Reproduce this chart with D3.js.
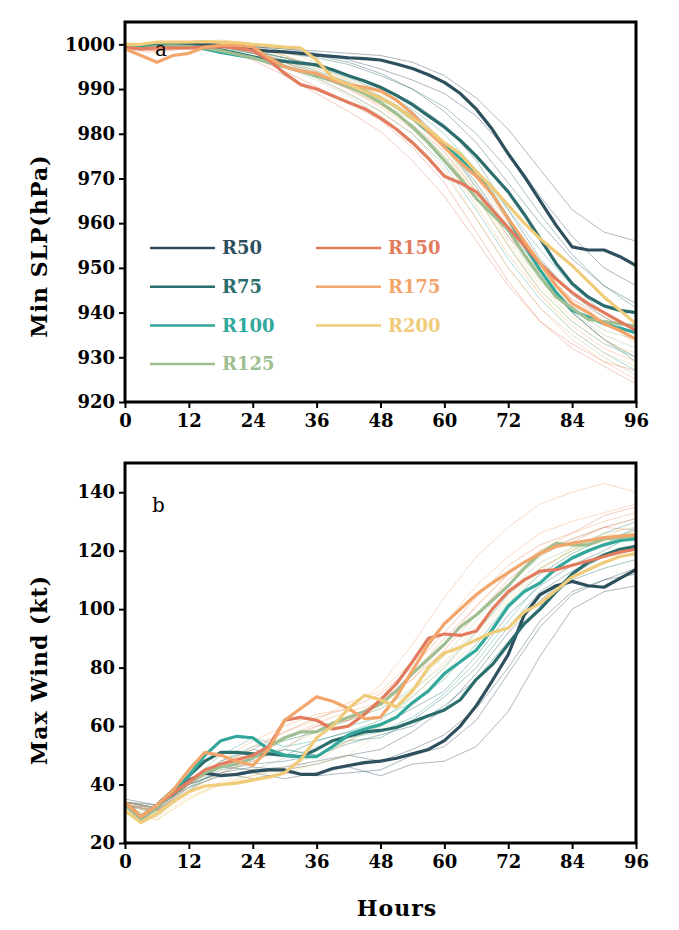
<!DOCTYPE html>
<html>
<head>
<meta charset="utf-8">
<script src="https://cdn.jsdelivr.net/npm/d3@7"></script>
<style>
  body { margin: 0; background: #fff; }
  svg text { font-family: "DejaVu Serif", serif; }
</style>
</head>
<body>
<div id="chart"></div>
<script>
// data: hours, ensemble means (3-hourly) and a few members (6-hourly)
const hours3 = d3.range(0, 97, 3);
const hours6 = d3.range(0, 97, 6);
const runs = ["R50", "R75", "R100", "R125", "R150", "R175", "R200"];
const runColors = ["#2e4f5e", "#2b6d6d", "#31a89b", "#9fbf92", "#e37c5e", "#f2a66b", "#efcb7a"];

// min SLP (hPa) means
const slpMean = {
    R50: [1000,999.6,999.8,1000,1000,1000,999.8,999.3,998.8,998.5,998.3,998,997.6,997.3,997,996.8,996.5,995.6,994.6,993.2,991.5,989,985.5,981,975.5,970.5,965,959.5,954.7,954,954,952.5,950.5],
    R75: [1000,999.5,999.7,999.8,999.8,999.5,998.8,998,997.2,996.6,996.2,995.8,995.4,994.3,993,991.8,990.4,988.6,986.5,984,981.5,978.5,975,971,967,962,956.5,951,946.5,943.5,941.5,940.5,940],
    R100: [999.8,999.2,999.6,999.7,999.5,999,998.2,997.6,997,996,995,994,993,992,991,989.6,988,986,983.5,980.5,977.5,974.5,971,966.5,961,955,949.5,944.5,940.5,939,937.5,936.5,935.5],
    R125: [999.5,999,999.5,999.6,999.5,999.2,998.6,997.8,997,996,995,994,993,991.8,990.5,989,987,984.5,981.5,978,974,970,965.5,962,958.5,953,948,943.5,941,938.5,938,937.5,937],
    R150: [999.3,999,999.2,999.2,999.2,999.4,999.5,999.2,998.6,996.5,993.5,991,990,988.5,987,985.6,983.5,981,978,974.5,970.5,969,967,963,959,955,951,947.5,944.5,942,940,938,936],
    R175: [999,997.5,996,997.5,998,999.4,999.8,999.8,999.5,997,995,994,993.5,992,991,990.4,989.6,987.5,984.5,980.5,977,973.5,970.5,966.5,961,956,951,946,942,940,937.5,936,934],
    R200: [1000,1000,1000.5,1000.5,1000.5,1000.6,1000.5,1000.4,1000,999.7,999.4,999.2,996.5,992.5,991,989.5,988,986,983.5,981,978,975.5,971.5,968,964,960,956.5,953.5,950.5,947,943.5,940.5,937.5]
};

// max wind (kt) means
const windMean = {
    R50: [34,29,32,37,41.5,44,43,43.5,44.5,45,45,43.5,43.5,45.5,46.5,47.5,48,49,50.5,52,55,60,67,75.5,84.5,98,105,108,109.5,108,107.5,110.5,113.5],
    R75: [34,29,33,38,43,48,51,51,50.5,50.5,50,49.5,52,55,56.5,58,58.5,59.5,61.5,63.5,65.5,69,76,81,88,95,100,106,112,116,118.5,120.5,121.5],
    R100: [33,28.5,33,38,43,50,55,56.5,56,52,50,49.5,49.5,53,57,59,60.5,63,68,72,78,82,86,93,101,106,109,114,117.5,120,122,123.5,124],
    R125: [33,28,32,37,41,44,46,47,49,53,56,58,58,61,63,65,67.5,72,78,83,88,94,98,103,108,114,119,122.5,122,122,124,124.5,125],
    R150: [34,29,33,37,41,45,47,48.5,50,53,62,63,62,59,60,64,69,74.5,82,90,91.5,91,92.5,100,106,110,113,113.5,115,116.5,118,119.5,120.5],
    R175: [34,29,33,38,45,51,50,48,46.5,52,62,66,70,68.5,66,62.5,63,70,79,88,95,100,105,109,112.5,116,119,121.5,122.5,123.5,124.5,125,125.5],
    R200: [31,27,30,34,37.5,39.5,40,40.5,41.5,42.5,44,48.5,56,60,66,70.5,69,66.5,72,80,85,87,89.5,92,93.5,99,102,106.5,111,113.5,116,118,119]
};

// individual members, min SLP
const slpMembers = [
    ["R50", [1000,1000,1000,1000.5,999.5,999,998.5,998,997.5,996,993,988,981,972,963,958,956]],
    ["R50", [1000,999.5,1000,999.5,998.5,997,995.5,993,990,985,978,968,958,948,940,934,930]],
    ["R50", [1000,1000,1000,1000,999.5,999,998,996.5,994.5,992,989,984,976,966,957,950,946]],
    ["R50", [1000,1000,1000.5,1000,999.5,998.5,997.5,996,993.5,990,985,978,969,960,952,946,942]],
    ["R75", [1000,999.5,1000,999.5,998,996.5,994,991.5,988,984,978,969,958,948,940,934,929]],
    ["R75", [1000,1000,1000.5,1000,999,998,997,995.5,993,990,986,980,972,962,953,946,941]],
    ["R75", [1000,1000,1000,999.5,998.5,997,995,993,990.5,987,982,974,963,952,944,939,935]],
    ["R100", [999.5,999,1000,999.5,998,995.5,992.5,989,985,980,973,963,952,943,936,931,927]],
    ["R100", [1000,999.5,1000,999.5,998.5,997,995,992.5,989.5,985.5,980,972,963,954,946,940,936]],
    ["R100", [1000,999,999.5,999,998,996,993.5,990.5,987,982,975,966,955,945,938,933,930]],
    ["R125", [999.5,999,999.5,999,997.5,995,992,988.5,984,978.5,971,961,950,941,935,930,926]],
    ["R125", [1000,999.5,1000,999.5,998,996,993.5,991,987,983,977,968,957,947,940,935,932]],
    ["R125", [999.5,999,1000,999.5,998.5,997,994.5,991.5,988,983.5,977,969,959,949,941,936,934]],
    ["R150", [999.5,998.5,999.5,999,997,994,990.5,987,983,977,969,958,947,938,932,928,924]],
    ["R150", [1000,999.5,1000,999.5,998,996,993,990,986.5,982,976,967,957,949,943,939,936]],
    ["R150", [999,998.5,999,998.5,996.5,993,989,985,980.5,974,966,956,946,938,933,929,927]],
    ["R175", [999,998,999.5,999.5,998.5,996,992.5,989,985,980,972,961,950,941,934,929,925]],
    ["R175", [1000,999,1000,1000,999,997.5,995,992,988.5,984,978,970,960,950,943,938,933]],
    ["R175", [999.5,998.5,1000,1000,998.5,996.5,993.5,990,986,981,974,964,953,944,937,932,929]],
    ["R200", [1000,999.5,1000,1001,1000,998.5,996,993,989,984,977,967,956,946,939,934,930]],
    ["R200", [999.5,999,1000,1000.5,999.5,997.5,994,990.5,986.5,981.5,975,966,955,944,936,931,928]],
    ["R200", [1000,999.5,1000.5,1000.5,999.5,997.5,995,992,988,983,976,966,955,945,938,933,931]]
];

// individual members, max wind
const windMembers = [
    ["R50", [34,33,40,44,42,44,43,44,45,50,53,62,78,94,105,110,112]],
    ["R50", [33,32,41,46,45,46,48,50,52,58,66,78,92,103,112,118,122]],
    ["R50", [35,33,39,43,44,42,44,46,43,47,48,53,65,84,100,106,108]],
    ["R50", [34,32,40,44,46,45,47,50,48,52,57,66,80,96,106,110,114]],
    ["R75", [34,32,40,48,52,50,55,58,60,66,72,84,98,108,115,120,126]],
    ["R75", [33,31,39,45,47,48,50,54,57,60,67,76,89,101,110,114,117]],
    ["R75", [34,32,40,46,49,52,50,55,56,62,70,80,94,106,113,118,121]],
    ["R100", [34,32,41,50,56,53,55,58,62,70,80,92,105,114,120,126,130]],
    ["R100", [33,30,38,46,49,52,50,56,58,63,71,82,96,109,117,122,128]],
    ["R100", [33,31,40,48,53,55,58,60,63,68,76,88,102,112,119,124,127]],
    ["R125", [32,29,38,44,48,53,58,62,66,73,84,96,108,118,124,128,131]],
    ["R125", [33,31,39,43,45,49,53,55,60,67,77,88,101,112,119,125,124]],
    ["R125", [33,30,39,46,50,55,58,62,66,72,81,93,106,116,121,126,128]],
    ["R150", [34,32,42,47,52,58,63,66,71,80,92,104,115,122,126,132,135]],
    ["R150", [33,31,38,44,48,52,60,62,69,76,86,98,110,119,123,128,127]],
    ["R150", [34,31,40,47,50,56,60,62,68,78,90,101,112,120,124,128,131]],
    ["R175", [33,31,40,48,55,60,64,66,74,88,104,118,128,136,140,143,140]],
    ["R175", [34,32,41,46,50,56,61,65,68,76,88,101,112,120,126,130,133]],
    ["R175", [33,30,40,46,53,58,62,68,72,82,95,108,118,126,130,133,136]],
    ["R200", [30,28,35,41,43,45,48,55,63,72,82,94,106,114,120,126,124]],
    ["R200", [31,29,36,40,42,44,47,50,58,68,78,90,103,113,121,123,127]],
    ["R200", [31,28,35,40,43,46,50,55,60,70,80,92,104,114,120,124,130]]
];

const xTicks = [0, 12, 24, 36, 48, 60, 72, 84, 96];
const slpTicks = [920, 930, 940, 950, 960, 970, 980, 990, 1000];
const windTicks = [20, 40, 60, 80, 100, 120, 140];

const W = 679, H = 930;
const plotLeft = 125, plotRight = 636;

const svg = d3
    .select("#chart")
    .append("svg")
    .attr("width", W)
    .attr("height", H);

const color = d3.scaleOrdinal().domain(runs).range(runColors);

const x = d3
    .scaleLinear()
    .domain([0, 96])
    .range([plotLeft, plotRight]);

function panel(y0, y1, yDomain, yTicks, means, members, tag) {
    const y = d3
        .scaleLinear()
        .domain(yDomain)
        .range([y1, y0]);

    const g = svg.append("g");

    svg.append("defs")
        .append("clipPath")
        .attr("id", "clip-" + tag)
        .append("rect")
        .attr("x", plotLeft)
        .attr("y", y0)
        .attr("width", plotRight - plotLeft)
        .attr("height", y1 - y0);

    const lines = g.append("g").attr("clip-path", `url(#clip-${tag})`);

    const thin = d3
        .line()
        .x((d, i) => x(hours6[i]))
        .y((d) => y(d));

    lines.selectAll(".member")
        .data(members)
        .enter()
        .append("path")
        .attr("class", "member")
        .attr("fill", "none")
        .attr("stroke", (d) => color(d[0]))
        .attr("stroke-opacity", 0.4)
        .attr("stroke-width", 1)
        .attr("d", (d) => thin(d[1]));

    const thick = d3
        .line()
        .x((d, i) => x(hours3[i]))
        .y((d) => y(d));

    lines.selectAll(".mean")
        .data(runs)
        .enter()
        .append("path")
        .attr("class", "mean")
        .attr("fill", "none")
        .attr("stroke", (d) => color(d))
        .attr("stroke-width", 3.2)
        .attr("stroke-linejoin", "round")
        .attr("d", (d) => thick(means[d]));

    // axes
    const xAxis = g.append("g")
        .attr("transform", `translate(0,${y1})`)
        .call(d3.axisBottom(x).tickValues(xTicks).tickSize(6).tickPadding(4));

    const yAxis = g.append("g")
        .attr("transform", `translate(${plotLeft},0)`)
        .call(d3.axisLeft(y).tickValues(yTicks).tickFormat(d3.format("d")).tickSize(6).tickPadding(4));

    [xAxis, yAxis].forEach((a) => {
        a.select(".domain").remove();
        a.selectAll("line").attr("stroke", "#000").attr("stroke-width", 2);
        a.selectAll("text")
            .attr("fill", "#000")
            .style("font-size", "18px")
            .style("font-weight", "bold")
            .style("font-family", "DejaVu Serif");
    });
    xAxis.selectAll("text").attr("dy", "0.85em");

    g.append("rect")
        .attr("x", plotLeft)
        .attr("y", y0)
        .attr("width", plotRight - plotLeft)
        .attr("height", y1 - y0)
        .attr("fill", "none")
        .attr("stroke", "#000")
        .attr("stroke-width", 3);

    return g;
}

const panelA = panel(22, 402, [920, 1005], slpTicks, slpMean, slpMembers, "a");
const panelB = panel(463, 843, [20, 150], windTicks, windMean, windMembers, "b");

panelA.append("text")
    .attr("x", 155)
    .attr("y", 56)
    .style("font-size", "20px")
    .text("a");

panelB.append("text")
    .attr("x", 152)
    .attr("y", 512)
    .style("font-size", "20px")
    .text("b");

// axis titles
svg.append("text")
    .attr("transform", "translate(47,246) rotate(-90)")
    .style("text-anchor", "middle")
    .style("font-size", "22px")
    .style("letter-spacing", "1px")
    .style("font-weight", "bold")
    .text("Min SLP(hPa)");

svg.append("text")
    .attr("transform", "translate(47,670) rotate(-90)")
    .style("text-anchor", "middle")
    .style("font-size", "22px")
    .style("letter-spacing", "1px")
    .style("font-weight", "bold")
    .text("Max Wind (kt)");

svg.append("text")
    .attr("x", 397)
    .attr("y", 916)
    .style("text-anchor", "middle")
    .style("font-size", "22px")
    .style("letter-spacing", "1px")
    .style("font-weight", "bold")
    .text("Hours");

// legend
const legendItems = panelA.append("g")
    .selectAll(".item")
    .data(runs)
    .enter()
    .append("g")
    .attr("class", "item")
    .attr("transform", (d, i) => {
        const col = i < 4 ? 0 : 1;
        const row = i < 4 ? i : i - 4;
        return `translate(${150 + col * 166},${248 + row * 38.7})`;
    });

legendItems.append("line")
    .attr("x1", 0)
    .attr("x2", 65)
    .attr("stroke", (d) => color(d))
    .attr("stroke-width", 2.5);

legendItems.append("text")
    .attr("x", 72)
    .attr("dy", "0.35em")
    .attr("fill", (d) => color(d))
    .style("font-size", "18px")
    .style("font-weight", "bold")
    .text((d) => d);
</script>
</body>
</html>
